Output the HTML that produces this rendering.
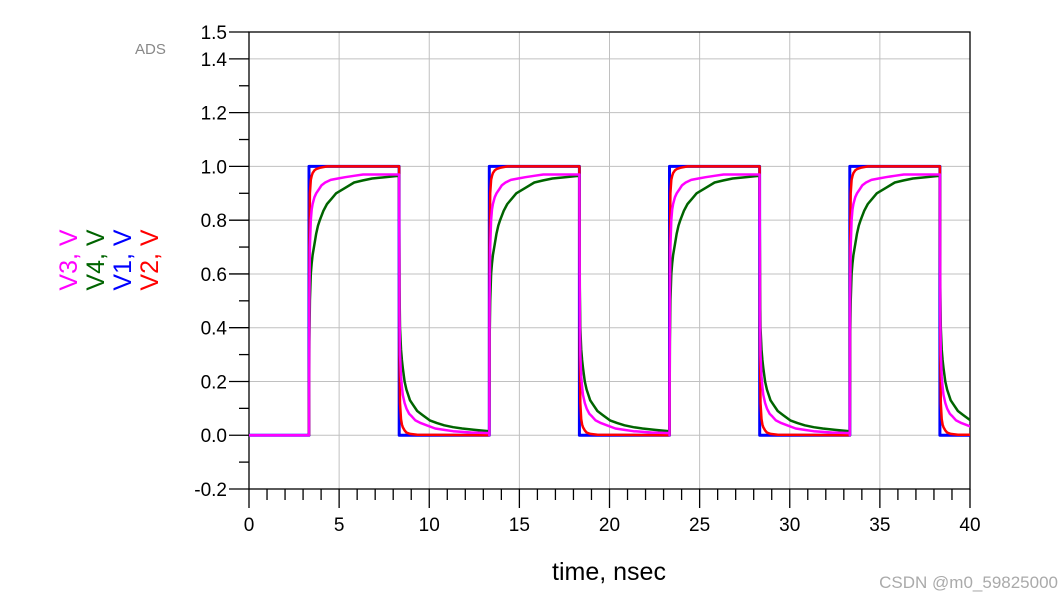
<!DOCTYPE html>
<html><head><meta charset="utf-8"><style>
body{margin:0;background:#fff;}
svg{display:block;font-family:"Liberation Sans",Arial,sans-serif;}
</style></head><body>
<svg id="chart" width="1062" height="599" viewBox="0 0 1062 599" xmlns="http://www.w3.org/2000/svg">
<text x="135" y="54" font-size="15" fill="#888">ADS</text>
<g id="grid"></g>
<g id="axes"></g>
<g id="series"></g>
<text x="609" y="580" font-size="25" text-anchor="middle">time, nsec</text>
<g font-size="25">
<text transform="translate(77,260) rotate(-90)" text-anchor="middle" fill="#ff00ff">V3, V</text>
<text transform="translate(104,260) rotate(-90)" text-anchor="middle" fill="#006400">V4, V</text>
<text transform="translate(131,260) rotate(-90)" text-anchor="middle" fill="#0000ff">V1, V</text>
<text transform="translate(158,260) rotate(-90)" text-anchor="middle" fill="#ff0000">V2, V</text>
</g>
<text x="1058" y="588" font-size="17" text-anchor="end" fill="#aaa">CSDN @m0_59825000</text>
</svg>
<script>
const xTicks=[0,5,10,15,20,25,30,35,40];
const yTicks=[-0.2,0.0,0.2,0.4,0.6,0.8,1.0,1.2,1.4,1.5];
const yTickLabels=["-0.2","0.0","0.2","0.4","0.6","0.8","1.0","1.2","1.4","1.5"];
const riseTimes=[3.33,13.33,23.33,33.33];
// one cycle per series: offsets (ns) from rise, values (V)
const v1Off=[0,0.001,5.0,5.001,10];
const v1Val=[0,1.0,1.0,0,0];
const v2Off=[0,0.02,0.05,0.1,0.15,0.2,0.3,0.4,0.6,1,5.0,5.02,5.05,5.1,5.15,5.2,5.3,5.4,5.6,6,10];
const v2Val=[0,0.7,0.9,0.95,0.965,0.975,0.985,0.99,0.995,1.0,1.0,0.3,0.12,0.06,0.04,0.03,0.018,0.01,0.005,0.002,0.0];
const v3Off=[0,0.02,0.05,0.1,0.15,0.2,0.3,0.4,0.55,0.7,0.9,1.2,1.6,2,2.5,3,5.0,5.02,5.05,5.1,5.15,5.2,5.3,5.4,5.55,5.7,5.9,6.2,6.6,7,7.5,8,9,10];
const v3Val=[0,0.5,0.7,0.8,0.84,0.86,0.885,0.9,0.915,0.93,0.94,0.95,0.955,0.96,0.965,0.97,0.97,0.45,0.3,0.22,0.18,0.15,0.12,0.1,0.08,0.07,0.055,0.045,0.035,0.025,0.02,0.015,0.01,0.008];
const v4Off=[0,0.02,0.05,0.1,0.15,0.2,0.3,0.4,0.5,0.6,0.8,1,1.25,1.5,2,2.5,3,3.5,4.2,5.0,5.02,5.05,5.1,5.15,5.2,5.3,5.4,5.5,5.6,5.8,6,6.3,6.7,7.1,7.5,8,8.5,9.2,10];
const v4Val=[0,0.35,0.5,0.6,0.64,0.67,0.71,0.75,0.78,0.8,0.835,0.86,0.88,0.9,0.92,0.94,0.948,0.955,0.96,0.965,0.55,0.4,0.32,0.28,0.25,0.2,0.17,0.15,0.13,0.11,0.09,0.075,0.055,0.045,0.037,0.03,0.025,0.02,0.015];
const X0=249,X1=970,Y0=489,Y1=32;
const xs=t=>X0+(t-0)/(40-0)*(X1-X0);
const ys=v=>Y0-(v+0.2)/(1.7)*(Y0-Y1);
const NS="http://www.w3.org/2000/svg";
function mk(tag,attrs,parent){const e=document.createElementNS(NS,tag);for(const k in attrs)e.setAttribute(k,attrs[k]);parent.appendChild(e);return e;}
const grid=document.getElementById('grid'),axes=document.getElementById('axes'),ser=document.getElementById('series');
xTicks.forEach(t=>{if(t>0&&t<40){const l=mk('line',{x1:xs(t),x2:xs(t),y1:Y1,y2:Y0,stroke:'#c0c0c0','stroke-width':1},grid);}});
yTicks.forEach(v=>{if(v>-0.2&&v<1.5){const l=mk('line',{x1:X0,x2:X1,y1:ys(v),y2:ys(v),stroke:'#c0c0c0','stroke-width':1},grid);}});
const box=mk('rect',{x:X0,y:Y1,width:X1-X0,height:Y0-Y1,fill:'none',stroke:'#000','stroke-width':1.3},axes);


for(let t=0;t<=40;t++){const major=t%5===0;const l=mk('line',{x1:xs(t),x2:xs(t),y1:Y0,y2:Y0+(major?19:11),stroke:'#000','stroke-width':1.3},axes);}
xTicks.forEach(t=>{const tx=mk('text',{x:xs(t),y:Y0+42,'font-size':19,'text-anchor':'middle'},axes);tx.textContent=t;});
for(let i=-2;i<=15;i++){const v=i/10;const major=yTicks.some(y=>Math.abs(y-v)<1e-6);const l=mk('line',{x1:X0-(major?20:10),x2:X0,y1:ys(v),y2:ys(v),stroke:'#000','stroke-width':1.3},axes);}
yTicks.forEach((v,i)=>{const tx=mk('text',{x:X0-22,y:ys(v)+7,'font-size':19,'text-anchor':'end'},axes);tx.textContent=yTickLabels[i];});
function build(off,val){const pts=[[0,0]];riseTimes.forEach(r=>{off.forEach((o,i)=>{pts.push([r+o,val[i]]);});});return pts.map((p,i)=>(i?'L':'M')+xs(p[0]).toFixed(1)+','+ys(p[1]).toFixed(1)).join('');}
const defs=[['v1',v1Off,v1Val,'#0000ff',3],['v2',v2Off,v2Val,'#ff0000',2.5],['v4',v4Off,v4Val,'#006400',2.5],['v3',v3Off,v3Val,'#ff00ff',2.5]];
const clip=mk('clipPath',{id:'pc'},ser);mk('rect',{x:X0,y:Y1,width:X1-X0,height:Y0-Y1},clip);
defs.forEach(d=>{const p=mk('path',{d:build(d[1],d[2]),fill:'none',stroke:d[3],'stroke-width':d[4],'clip-path':'url(#pc)','stroke-linejoin':'round'},ser);});
</script>
</body></html>
